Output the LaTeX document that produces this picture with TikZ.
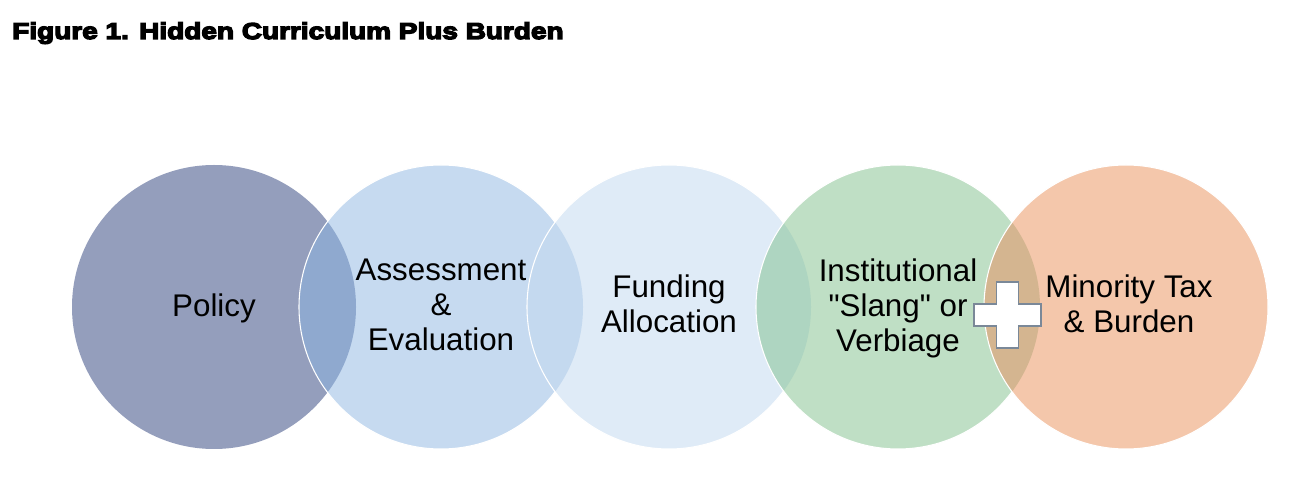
\documentclass[tikz,border=0pt]{standalone}
\usepackage{fontspec}
\setmainfont{Liberation Sans}
\newfontfamily\qfont{Liberation Sans}
\newfontfamily\titlefont[FakeStretch=1.22,FakeBold=6]{Liberation Sans Bold}
\usetikzlibrary{calc}
\definecolor{cPolicy}{HTML}{949EBC}
\definecolor{cAssess}{HTML}{C6DAF0}
\definecolor{cFund}{HTML}{DFEBF7}
\definecolor{cInst}{HTML}{BFDFC5}
\definecolor{cMin}{HTML}{F4C7AB}
\definecolor{lAB}{HTML}{8FA9CF}
\definecolor{lBC}{HTML}{C4D9EF}
\definecolor{lCD}{HTML}{AED5C1}
\definecolor{lDE}{HTML}{D4B590}
\definecolor{crossline}{HTML}{7A8898}
\tikzset{
  label/.style={inner sep=0pt, align=center, text=black,
    font=\fontsize{23.5}{26.25}\selectfont},
  rim/.style={draw=white, line width=0.8pt},
  plusmark/.style={fill=white, draw=crossline, line width=0.9pt, line join=miter},
}
\def\R{106.5pt}
\newcommand\qd{{\qfont"}}
\begin{document}
\begin{tikzpicture}[x=0.75pt,y=-0.75pt]
\useasboundingbox (0,0) rectangle (1292,498);
\fill[white] (0,0) rectangle (1292,498);

\node[anchor=base west, inner sep=0pt, font=\titlefont\fontsize{17.2}{19}\selectfont] (title) at (12,39) {Figure 1. Hidden Curriculum Plus Burden};

\coordinate (p1) at (214,307);
\coordinate (p2) at (441,307);
\coordinate (p3) at (669,307);
\coordinate (p4) at (898,307);
\coordinate (p5) at (1126,307);

% circle 1
\fill[cPolicy] (p1) circle[radius=\R];
% circle 2
\fill[cAssess] (p2) circle[radius=\R];
\begin{scope}\clip (p1) circle[radius=\R]; \fill[lAB] (p2) circle[radius=\R];\end{scope}
\draw[rim] (p2) circle[radius=\R];
% circle 3
\fill[cFund] (p3) circle[radius=\R];
\begin{scope}\clip (p2) circle[radius=\R]; \fill[lBC] (p3) circle[radius=\R];\end{scope}
\draw[rim] (p3) circle[radius=\R];
% circle 4
\fill[cInst] (p4) circle[radius=\R];
\begin{scope}\clip (p3) circle[radius=\R]; \fill[lCD] (p4) circle[radius=\R];\end{scope}
\draw[rim] (p4) circle[radius=\R];
% circle 5
\fill[cMin] (p5) circle[radius=\R];
\begin{scope}\clip (p4) circle[radius=\R]; \fill[lDE] (p5) circle[radius=\R];\end{scope}
\draw[rim] (p5) circle[radius=\R];

\node[label] (policy) at (214,308) {Policy};
\node[label] (assess) at (441,305) {Assessment\\\&\\Evaluation};
\node[label] (fund) at (669,304) {Funding\\Allocation};
\node[label] (inst) at (898,308) {Institutional\\\qd Slang\qd{} or\\Verbiage};
\node[label] (minority) at (1129,304) {Minority Tax\\\& Burden};

\coordinate (pl) at (1007.5,315);
\draw[plusmark] ($(pl)+(-33.5,-11)$) -- ++(22.5,0) -- ++(0,-22) -- ++(22,0) -- ++(0,22) -- ++(22.5,0) -- ++(0,22) -- ++(-22.5,0) -- ++(0,22) -- ++(-22,0) -- ++(0,-22) -- ++(-22.5,0) -- cycle;
\end{tikzpicture}
\end{document}
